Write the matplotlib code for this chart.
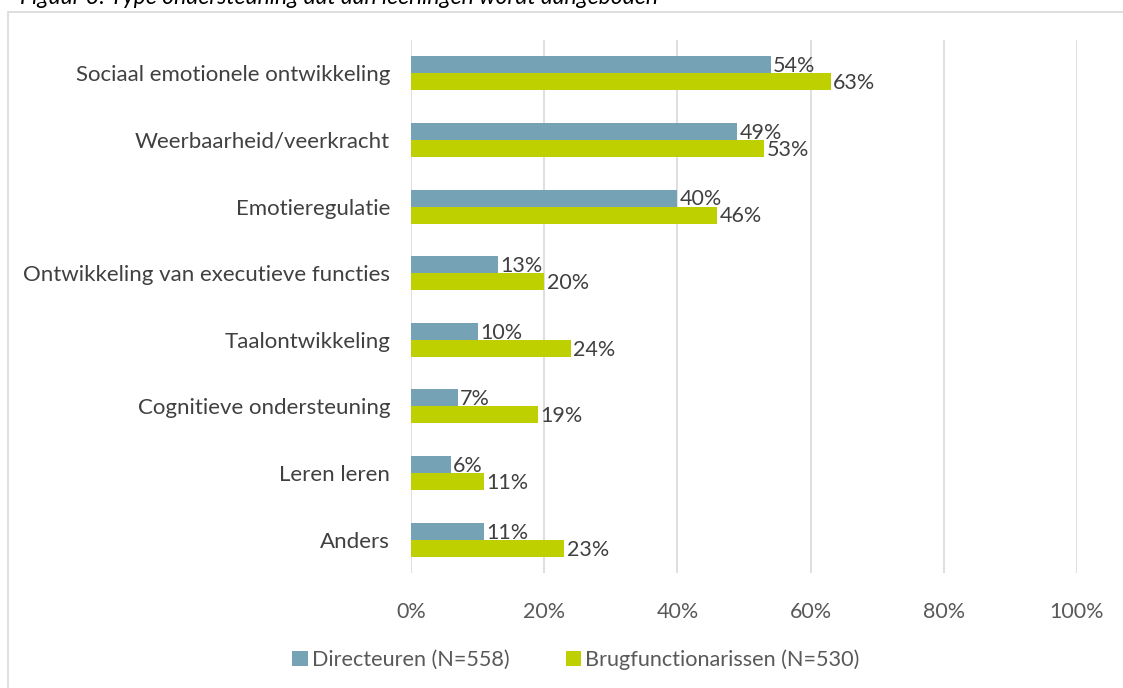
import matplotlib
matplotlib.use("Agg")
import matplotlib.pyplot as plt
import matplotlib.patches as mpatches
import numpy as np

categories = ["Sociaal emotionele ontwikkeling", "Weerbaarheid/veerkracht", "Emotieregulatie",
              "Ontwikkeling van executieve functies", "Taalontwikkeling",
              "Cognitieve ondersteuning", "Leren leren", "Anders"]
directeuren = [54, 49, 40, 13, 10, 7, 6, 11]
brugfunctionarissen = [63, 53, 46, 20, 24, 19, 11, 23]
series_names = ["Directeuren (N=558)", "Brugfunctionarissen (N=530)"]
xticks = [0, 20, 40, 60, 80, 100]

plt.rcParams['font.family'] = ['Lato', 'DejaVu Sans']
txt = '#404040'
blue = '#76A2B6'
green = '#BFD000'
fs = 15.5

fig = plt.figure(figsize=(11.23, 6.88), dpi=100)
ax = fig.add_axes([411/1123, 1-573/688, (1077-411)/1123, (573-40)/688])

# border
border = mpatches.Rectangle((8/1123, -0.1), 1.2, 1-12/688+0.1, transform=fig.transFigure,
                            fill=False, edgecolor='#D9D9D9', linewidth=1.2, clip_on=False)
fig.patches.append(border)

# cut-off title
fig.text(20/1123, 1-3.5/688, "Figuur 3: Type ondersteuning dat aan leerlingen wordt aangeboden",
         fontsize=16.5, style='italic', color='black', va='baseline', ha='left')

n = len(categories)
y = np.arange(n)
h = 0.255
b1 = ax.barh(y - h/2, directeuren, height=h, color=blue, label=series_names[0])
b2 = ax.barh(y + h/2, brugfunctionarissen, height=h, color=green, label=series_names[1])

for yi, v in zip(y, directeuren):
    ax.text(v + 0.35, yi - h/2 + 0.02, f"{v}%", va='center', ha='left', fontsize=fs, color=txt)
for yi, v in zip(y, brugfunctionarissen):
    ax.text(v + 0.35, yi + h/2 + 0.02, f"{v}%", va='center', ha='left', fontsize=fs, color=txt)

ax.set_ylim(n - 0.5, -0.5)
ax.set_xlim(0, 100)
ax.set_yticks(y)
ax.set_yticklabels(categories, fontsize=16, color=txt)
ax.set_xticks(xticks)
ax.set_xticklabels([f"{t}%" for t in xticks], fontsize=fs, color='#595959')
ax.tick_params(axis='both', length=0)
ax.tick_params(axis='y', pad=15)
ax.tick_params(axis='x', pad=21)
ax.xaxis.grid(True, color='#D9D9D9', linewidth=1.2)
ax.set_axisbelow(True)
for s in ax.spines.values():
    s.set_visible(False)

leg = fig.legend(handles=[b1, b2], loc='center', bbox_to_anchor=(576/1123, 1-660/688), ncol=2,
                 frameon=False, fontsize=15.6, handlelength=0.7, handleheight=0.7,
                 columnspacing=2.6, handletextpad=0.2)
for t in leg.get_texts():
    t.set_color('#595959')

fig.savefig("out.png", dpi=100)
